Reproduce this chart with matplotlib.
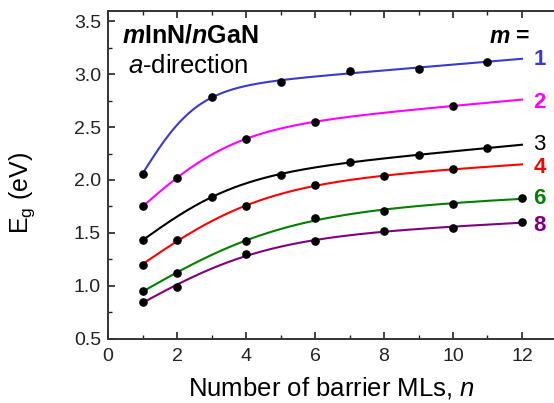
import numpy as np
import matplotlib
matplotlib.use("Agg")
import matplotlib.pyplot as plt

plt.rcParams['font.family'] = ['Liberation Sans', 'DejaVu Sans']
plt.rcParams['mathtext.fontset'] = 'custom'
plt.rcParams['mathtext.rm'] = 'Liberation Sans'
plt.rcParams['mathtext.it'] = 'Liberation Sans:italic'
plt.rcParams['mathtext.bf'] = 'Liberation Sans:bold'
plt.rcParams['mathtext.bfit'] = 'Liberation Sans:italic:bold'

m_labels = ["1", "2", "3", "4", "6", "8"]
colors = ["#3a3acc", "#ff00ff", "#000000", "#ff0000", "#008000", "#800080"]
n_m1 = [1, 3, 5, 7, 9, 11]
e_m1 = [2.06, 2.78, 2.93, 3.03, 3.05, 3.12]
n_m2 = [1, 2, 4, 6, 10]
e_m2 = [1.75, 2.02, 2.39, 2.55, 2.70]
n_m3 = [1, 3, 5, 7, 9, 11]
e_m3 = [1.43, 1.84, 2.05, 2.17, 2.24, 2.30]
n_m4 = [1, 2, 4, 6, 8, 10]
e_m4 = [1.20, 1.43, 1.75, 1.95, 2.04, 2.10]
n_m6 = [1, 2, 4, 6, 8, 10, 12]
e_m6 = [0.95, 1.12, 1.42, 1.64, 1.71, 1.77, 1.83]
n_m8 = [1, 2, 4, 6, 8, 10, 12]
e_m8 = [0.85, 0.99, 1.30, 1.42, 1.52, 1.55, 1.60]

ns = [n_m1, n_m2, n_m3, n_m4, n_m6, n_m8]
es = [e_m1, e_m2, e_m3, e_m4, e_m6, e_m8]
label_y = [3.16, 2.76, 2.36, 2.14, 1.85, 1.59]
label_bold = [True, True, False, True, True, True]


def fit_curve(n, e, nn):
    # e = a + b*tanh(c*(n-1)) + d*n, c found by grid search
    best = None
    for c in np.linspace(0.1, 2.0, 300):
        A = np.column_stack([np.ones_like(n), np.tanh(c * (n - 1)), n])
        coef, *_ = np.linalg.lstsq(A, e, rcond=None)
        r = np.sum((A @ coef - e) ** 2)
        if best is None or r < best[0]:
            best = (r, c, coef)
    _, c, coef = best
    return coef[0] + coef[1] * np.tanh(c * (nn - 1)) + coef[2] * nn


fig = plt.figure(figsize=(5.54, 4.03), dpi=100)
ax = fig.add_axes([0.195, 0.1596, 0.8095, 0.8138])

nn = np.linspace(1, 12, 300)
for n, e, c in zip(ns, es, colors):
    n = np.array(n, float); e = np.array(e, float)
    ax.plot(nn, fit_curve(n, e, nn), color=c, lw=1.5, zorder=2)
    ax.plot(n, e, 'o', color='black', ms=5.2, zorder=3)

for lab, c, y, b in zip(m_labels, colors, label_y, label_bold):
    ax.text(12.33, y, lab, color=c, fontsize=16, fontweight='bold' if b else 'normal',
            ha='left', va='center_baseline')

ax.text(12.23, 3.38, r"$\mathbfit{m}$ =", fontsize=16.5, fontweight='bold',
        ha='right', va='center_baseline')
ax.text(0.41, 3.39, r"$\mathbfit{m}$InN/$\mathbfit{n}$GaN", fontsize=18,
        fontweight='bold', ha='left', va='center_baseline')
ax.text(0.58, 3.10, r"$\mathit{a}$-direction", fontsize=18.5, ha='left', va='center_baseline')

ax.set_xlim(0, 13)
ax.set_ylim(0.5, 3.6)
ax.set_xticks([0, 2, 4, 6, 8, 10, 12])
ax.set_xticks(np.arange(1, 13, 2), minor=True)
ax.set_yticks([0.5, 1.0, 1.5, 2.0, 2.5, 3.0, 3.5])
ax.set_yticks(np.arange(0.75, 3.6, 0.5), minor=True)
ax.set_yticklabels(["0.5", "1.0", "1.5", "2.0", "2.5", "3.0", "3.5"])
ax.tick_params(which='both', direction='in', top=True, right=False, labelsize=14,
               colors='#222222')
ax.tick_params(axis='x', which='major', pad=7)
ax.tick_params(axis='y', which='major', pad=5)
ax.tick_params(which='major', length=5, width=1.2)
ax.tick_params(which='minor', length=3, width=1.0)
for s in ax.spines.values():
    s.set_linewidth(1.4)
    s.set_color('#333333')

fig.text(0.599, 0.037, r"Number of barrier MLs, $\mathit{n}$", fontsize=18.5,
         ha='center', va='center')
fig.text(0.040, 0.52, r"E$_\mathrm{g}$ (eV)", fontsize=18, rotation=90,
         ha='center', va='center')

fig.savefig("out.png", dpi=100)
